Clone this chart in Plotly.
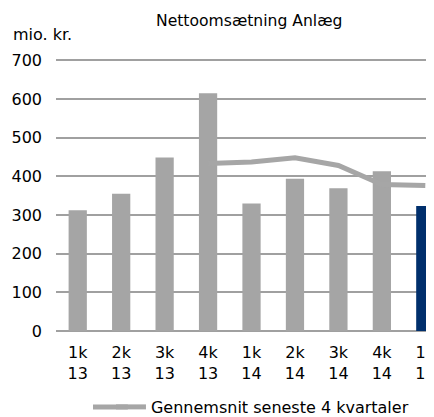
import plotly.graph_objects as go

categories = ["1k<br>13", "2k<br>13", "3k<br>13", "4k<br>13", "1k<br>14", "2k<br>14", "3k<br>14", "4k<br>14", "1k<br>15"]
revenue = [312, 355, 449, 615, 330, 394, 369, 413, 323]
avg_cats = categories[3:]
avg_values = [433, 437, 448, 428, 379, 376]
bar_colors = ["#a5a5a5"] * 8 + ["#002f6c"]

FONT = "DejaVu Sans, Verdana, sans-serif"
LINE_GRAY = "#a6a6a6"

fig = go.Figure()
fig.add_trace(go.Bar(x=categories, y=revenue, marker=dict(color=bar_colors, line_width=0),
                     width=0.42, showlegend=False))
fig.add_trace(go.Scatter(x=avg_cats, y=avg_values, mode="lines",
                         line=dict(color=LINE_GRAY, width=5),
                         name="Gennemsnit seneste 4 kvartaler"))

# page body has an 8px margin, so the figure is sized/offset to fit the window
fig.update_layout(
    width=426, height=409,
    margin=dict(l=48, r=0, t=50, b=86),
    plot_bgcolor="white", paper_bgcolor="white",
    font=dict(family=FONT, size=16, color="#000000"),
    xaxis=dict(type="category", range=[-0.5, 8.2], showgrid=False, showline=False,
               automargin=False, ticks="", ticklabelstandoff=10, tickfont=dict(size=16)),
    yaxis=dict(range=[0, 706], tickvals=[0, 100, 200, 300, 400, 500, 600, 700],
               showgrid=True, gridcolor="#a0a0a0", gridwidth=1.5,
               zeroline=True, zerolinecolor="#a0a0a0", zerolinewidth=1.5,
               automargin=False, showline=False, ticks="", ticklabelstandoff=13,
               tickfont=dict(size=16)),
    legend=dict(orientation="h", xref="container", x=0.2417, xanchor="left",
                yref="container", y=0.0245, yanchor="middle", font=dict(size=16),
                bgcolor="rgba(0,0,0,0)"),
    shapes=[
        # lengthen the legend's line sample to match the reference swatch
        dict(type="line", xref="paper", yref="paper", x0=0.0979, x1=0.19,
             y0=-0.2784, y1=-0.2784, line=dict(color=LINE_GRAY, width=5), layer="above"),
    ],
    annotations=[
        dict(text="Nettoomsætning Anlæg", xref="paper", yref="paper", x=0.5, y=1.0,
             xanchor="center", yanchor="middle", yshift=37, xshift=4, showarrow=False,
             font=dict(size=15.6)),
        dict(text="mio. kr.", xref="paper", yref="paper", x=0, y=1.0,
             xanchor="left", yanchor="middle", xshift=-45, yshift=24, showarrow=False,
             font=dict(size=16)),
    ],
)

fig.write_html("out.html")
